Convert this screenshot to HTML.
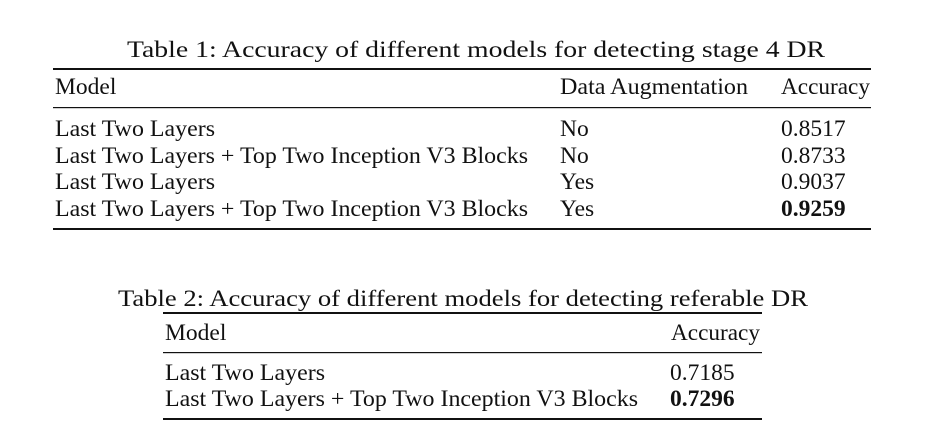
<!DOCTYPE html>
<html><head><meta charset="utf-8"><style>
html,body{margin:0;padding:0;background:#fff;width:928px;height:444px;overflow:hidden}
svg text{font-family:"Liberation Serif","Times New Roman",serif;font-size:23.5px;fill:#111}
</style></head><body>
<svg width="928" height="444" viewBox="0 0 928 444">
<g>
<text x="127" y="57" textLength="698" lengthAdjust="spacingAndGlyphs">Table 1: Accuracy of different models for detecting stage 4 DR</text>
<rect x="53" y="68" width="818" height="2" fill="#111"/>
<text x="55" y="94">Model</text>
<text x="560" y="94" textLength="188" lengthAdjust="spacingAndGlyphs">Data Augmentation</text>
<text x="781" y="94" textLength="89" lengthAdjust="spacingAndGlyphs">Accuracy</text>
<rect x="53" y="107" width="818" height="1.2" fill="#111"/>
<text x="55" y="136" textLength="160" lengthAdjust="spacingAndGlyphs">Last Two Layers</text>
<text x="560" y="136">No</text>
<text x="781" y="136">0.8517</text>
<text x="55" y="163" textLength="473" lengthAdjust="spacingAndGlyphs">Last Two Layers + Top Two Inception V3 Blocks</text>
<text x="560" y="163">No</text>
<text x="781" y="163">0.8733</text>
<text x="55" y="189" textLength="160" lengthAdjust="spacingAndGlyphs">Last Two Layers</text>
<text x="560" y="189">Yes</text>
<text x="781" y="189">0.9037</text>
<text x="55" y="216" textLength="473" lengthAdjust="spacingAndGlyphs">Last Two Layers + Top Two Inception V3 Blocks</text>
<text x="560" y="216">Yes</text>
<text x="781" y="216" font-weight="bold">0.9259</text>
<rect x="53" y="228" width="818" height="2" fill="#111"/>
</g>
<g>
<text x="118" y="306" textLength="690" lengthAdjust="spacingAndGlyphs">Table 2: Accuracy of different models for detecting referable DR</text>
<rect x="163" y="312" width="599" height="2" fill="#111"/>
<text x="165" y="340">Model</text>
<text x="671" y="340" textLength="89" lengthAdjust="spacingAndGlyphs">Accuracy</text>
<rect x="163" y="352" width="599" height="1.2" fill="#111"/>
<text x="165" y="380" textLength="160" lengthAdjust="spacingAndGlyphs">Last Two Layers</text>
<text x="670" y="380">0.7185</text>
<text x="165" y="406" textLength="473" lengthAdjust="spacingAndGlyphs">Last Two Layers + Top Two Inception V3 Blocks</text>
<text x="670" y="406" font-weight="bold">0.7296</text>
<rect x="163" y="418" width="599" height="2" fill="#111"/>
</g>
</svg>
</body></html>
